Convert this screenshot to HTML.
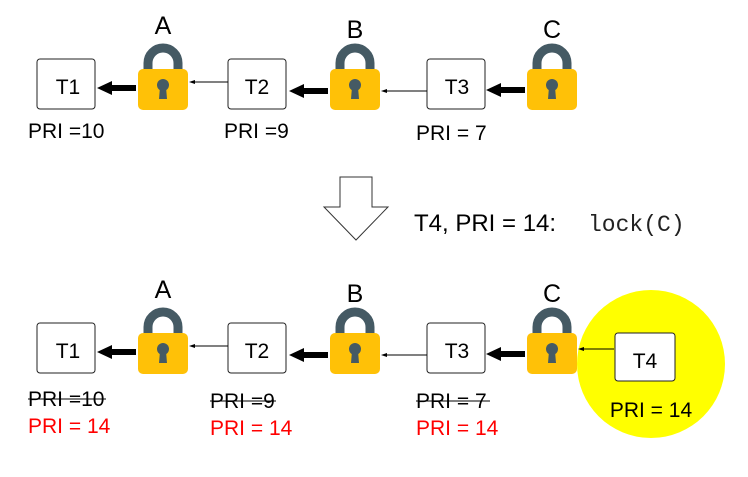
<!DOCTYPE html>
<html><head><meta charset="utf-8"><style>
body{margin:0;background:#fff}
svg text{font-family:"Liberation Sans",sans-serif}
</style></head><body>
<svg width="748" height="472" viewBox="0 0 748 472" xmlns="http://www.w3.org/2000/svg">
<defs>
<g id="lock">
<path d="M10 32 V22 A15 15 0 0 1 40 22 V32" fill="none" stroke="#455a64" stroke-width="9"/>
<rect x="0" y="28" width="50" height="41" rx="5" fill="#FFC107"/>
<circle cx="25" cy="44" r="6" fill="#455a64"/>
<path d="M22 46 L28 46 L29 58 L21 58 Z" fill="#455a64"/>
</g>
<g id="row">
<rect x="37" y="59" width="58" height="50" rx="3" fill="#fff" stroke="#222" stroke-width="1"/>
<text x="68" y="94" font-size="21" text-anchor="middle">T1</text>
<rect x="228" y="59" width="58" height="50" rx="3" fill="#fff" stroke="#222" stroke-width="1"/>
<text x="257" y="94" font-size="21" text-anchor="middle">T2</text>
<rect x="427" y="59" width="58" height="50" rx="3" fill="#fff" stroke="#222" stroke-width="1"/>
<text x="457" y="94" font-size="21" text-anchor="middle">T3</text>
<use href="#lock" x="138" y="41"/>
<use href="#lock" x="330" y="41"/>
<use href="#lock" x="527" y="41"/>
<text x="163" y="34" font-size="25" text-anchor="middle">A</text>
<text x="355" y="38" font-size="25" text-anchor="middle">B</text>
<text x="552" y="38" font-size="25" text-anchor="middle">C</text>
<line x1="111" y1="88" x2="136" y2="88" stroke="#000" stroke-width="6"/>
<path d="M97 88 L112 81 L112 95 Z"/>
<line x1="303" y1="91" x2="328" y2="91" stroke="#000" stroke-width="6"/>
<path d="M289 91 L304 84 L304 98 Z"/>
<line x1="500" y1="90" x2="525" y2="90" stroke="#000" stroke-width="6"/>
<path d="M486 90 L501 83 L501 97 Z"/>
<line x1="192" y1="82" x2="228" y2="82" stroke="#000" stroke-width="1"/>
<path d="M189 82 L195 80 L195 84 Z"/>
<line x1="384" y1="91" x2="427" y2="91" stroke="#000" stroke-width="1"/>
<path d="M381 91 L387 89 L387 93 Z"/>
</g>
</defs>
<use href="#row"/>
<text x="28" y="138" font-size="21">PRI =10</text>
<text x="224" y="138" font-size="21">PRI =9</text>
<text x="416" y="140" font-size="21">PRI = 7</text>

<path d="M340 177 H372 V207 H388 L356 240 L324 207 H340 Z" fill="#fff" stroke="#333" stroke-width="1"/>
<text x="414" y="231" font-size="24">T4, PRI = 14:</text>
<text x="588" y="231" font-size="23" style="font-family:'Liberation Mono',monospace;font-weight:300" fill="#222">lock(C)</text>

<circle cx="651" cy="364" r="74" fill="#FFFF00"/>
<g transform="translate(0,264)"><use href="#row"/></g>
<line x1="581" y1="349" x2="614" y2="349" stroke="#000" stroke-width="1"/>
<path d="M578 349 L584 347 L584 351 Z"/>
<rect x="615" y="333" width="60" height="48" rx="3" fill="#fff" stroke="#222" stroke-width="1"/>
<text x="645" y="368" font-size="21" text-anchor="middle">T4</text>
<text x="651" y="417" font-size="21" text-anchor="middle">PRI = 14</text>

<text x="28" y="406" font-size="21">PRI =10</text>
<line x1="28" y1="399" x2="106" y2="399" stroke="#000" stroke-width="1"/>
<text x="28" y="433" font-size="21" fill="#ff0000">PRI = 14</text>
<text x="210" y="408" font-size="21">PRI =9</text>
<line x1="210" y1="401" x2="276" y2="401" stroke="#000" stroke-width="1"/>
<text x="210" y="435" font-size="21" fill="#ff0000">PRI = 14</text>
<text x="416" y="408" font-size="21">PRI = 7</text>
<line x1="416" y1="401" x2="490" y2="401" stroke="#000" stroke-width="1"/>
<text x="416" y="435" font-size="21" fill="#ff0000">PRI = 14</text>
</svg>
</body></html>
